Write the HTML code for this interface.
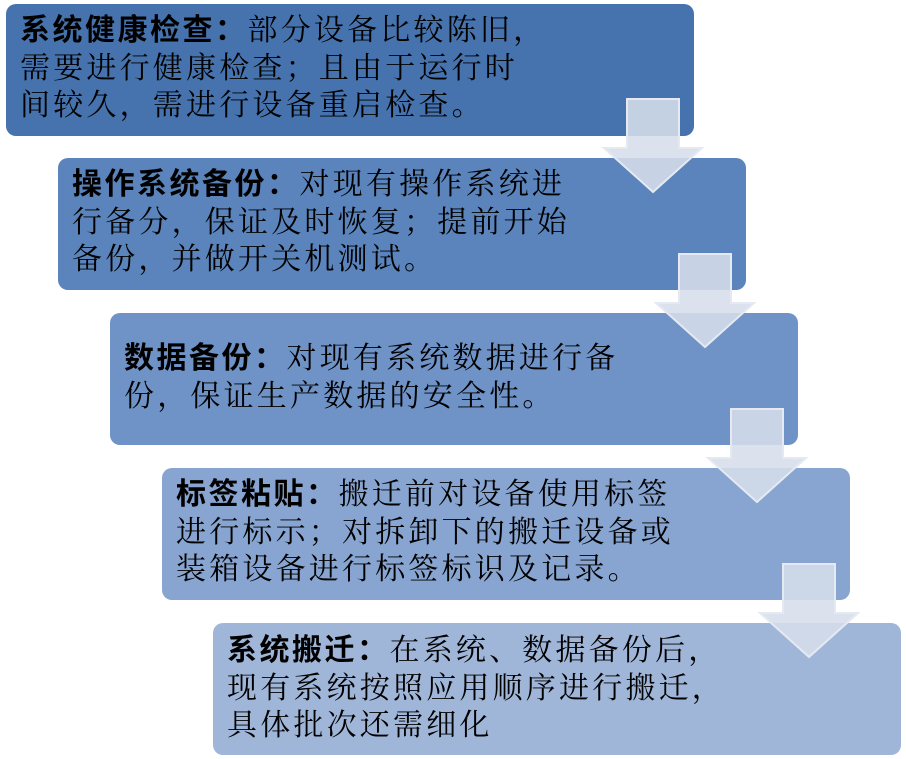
<!DOCTYPE html>
<html><head><meta charset="utf-8"><style>
body{margin:0;width:906px;height:759px;background:#fff;position:relative;overflow:hidden}
.b{position:absolute;width:688px;height:132px;border-radius:10px;box-sizing:border-box}
.t{position:absolute;font-family:"Liberation Serif","Noto Serif CJK SC",serif;font-size:30px;line-height:37.5px;letter-spacing:3.2px;color:#000;white-space:nowrap}
.t b{font-family:"Liberation Sans","Noto Sans CJK SC",sans-serif;font-weight:bold;letter-spacing:2.5px}
svg{position:absolute;left:0;top:0}
</style></head><body>
<div class="b" style="left:6px;top:4px;background:#4673ad"></div>
<div class="b" style="left:58px;top:158px;background:#5a84bb"></div>
<div class="b" style="left:110px;top:313px;background:#6f93c6"></div>
<div class="b" style="left:162px;top:468px;background:#87a5d0"></div>
<div class="b" style="left:213px;top:623px;background:#a0b6d8"></div>
<svg width="906" height="759">
<g fill="#d6deeb" fill-opacity="0.88" stroke="#e4e9f2" stroke-width="2">
<path d="M627 99H679V148H702L653 192L604 148H627Z"/>
<path d="M679 254H731V303H754L705 347L656 303H679Z"/>
<path d="M731 409H783V458H806L757 502L708 458H731Z"/>
<path d="M783 564H835V613H858L809 657L760 613H783Z"/>
</g></svg>
<div class="t" style="left:20px;top:12px"><b>系统健康检查：</b>部分设备比较陈旧，<br>需要进行健康检查；且由于运行时<br>间较久，需进行设备重启检查。</div>
<div class="t" style="left:72px;top:166px"><b>操作系统备份：</b>对现有操作系统进<br>行备分，保证及时恢复；提前开始<br>备份，并做开关机测试。</div>
<div class="t" style="left:124px;top:340px"><b>数据备份：</b>对现有系统数据进行备<br>份，保证生产数据的安全性。</div>
<div class="t" style="left:176px;top:476px"><b>标签粘贴：</b>搬迁前对设备使用标签<br>进行标示；对拆卸下的搬迁设备或<br>装箱设备进行标签标识及记录。</div>
<div class="t" style="left:227px;top:632px"><b>系统搬迁：</b>在系统、数据备份后，<br>现有系统按照应用顺序进行搬迁，<br>具体批次还需细化</div>
</body></html>
